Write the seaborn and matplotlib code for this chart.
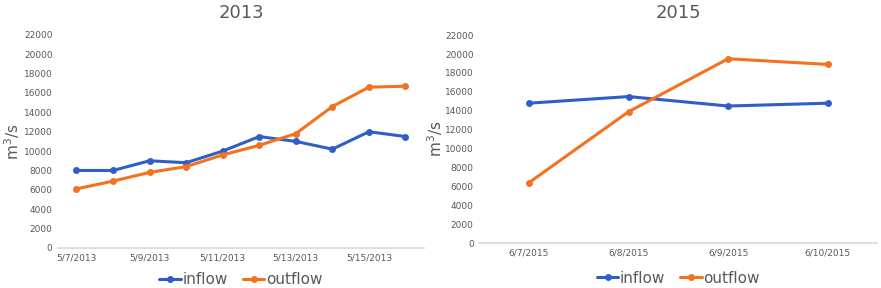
import pandas as pd
import seaborn as sns
import matplotlib.pyplot as plt

# Data
dates_2013 = ['5/7/2013', '5/8/2013', '5/9/2013', '5/10/2013', '5/11/2013',
              '5/12/2013', '5/13/2013', '5/14/2013', '5/15/2013', '5/16/2013']
inflow_2013 = [8000, 8000, 9000, 8800, 10000, 11500, 11000, 10200, 12000, 11500]
outflow_2013 = [6100, 6900, 7800, 8400, 9600, 10600, 11800, 14600, 16600, 16700]

dates_2015 = ['6/7/2015', '6/8/2015', '6/9/2015', '6/10/2015']
inflow_2015 = [14800, 15500, 14500, 14800]
outflow_2015 = [6400, 13900, 19500, 18900]

palette = {'inflow': '#2E5EC8', 'outflow': '#F2721F'}
grey = '#595959'

sns.set_style('white')
plt.rcParams['font.family'] = ['DejaVu Sans']


def long_df(dates, inflow, outflow):
    df = pd.DataFrame({'date': dates, 'inflow': inflow, 'outflow': outflow})
    return df.melt(id_vars='date', var_name='series', value_name='flow')


fig = plt.figure(figsize=(8.81, 2.88), dpi=100)
ax1 = fig.add_axes([0.066, 0.139, 0.415, 0.740])
ax2 = fig.add_axes([0.544, 0.156, 0.452, 0.722])

# axes, title, dates, inflow, outflow, tick step, ylabel x, legend y
panels = [
    (ax1, '2013', dates_2013, inflow_2013, outflow_2013, 2, -0.098, -0.15),
    (ax2, '2015', dates_2015, inflow_2015, outflow_2015, 1, -0.085, -0.168),
]

for ax, title, dates, inflow, outflow, step, ylab_x, leg_y in panels:
    df = long_df(dates, inflow, outflow)
    sns.lineplot(data=df, x='date', y='flow', hue='series', palette=palette,
                 marker='o', markersize=5, markeredgewidth=0, linewidth=2.2,
                 sort=False, ax=ax)
    n = len(dates)
    ax.set_xlim(-0.5, n - 0.5)
    ax.set_ylim(0, 22000)
    ax.set_yticks(range(0, 22001, 2000))
    ax.set_xticks(range(0, n, step))
    ax.set_xticklabels(dates[::step])
    ax.tick_params(axis='both', length=0, labelsize=6.5, labelcolor=grey, pad=4)
    ax.set_xlabel('')
    ax.set_ylabel('m$^3$/s', fontsize=11, color=grey)
    ax.yaxis.set_label_coords(ylab_x, 0.5)
    ax.set_title(title, fontsize=13, color=grey, pad=12)
    for side in ['top', 'right', 'left']:
        ax.spines[side].set_visible(False)
    ax.spines['bottom'].set_color('#D9D9D9')
    ax.spines['bottom'].set_linewidth(1.2)
    ax.legend(loc='center', bbox_to_anchor=(0.5, leg_y), ncol=2,
              frameon=False, fontsize=11, handlelength=1.4, handletextpad=0.1,
              columnspacing=1.0, labelcolor=grey)

fig.savefig('out.png', dpi=100)
